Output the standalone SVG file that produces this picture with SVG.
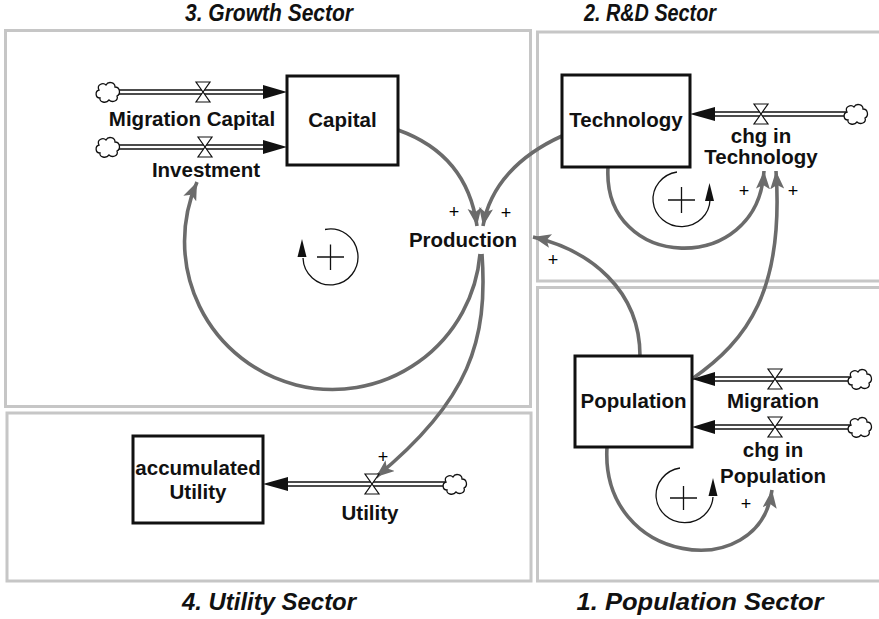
<svg xmlns="http://www.w3.org/2000/svg" width="879" height="619" viewBox="0 0 879 619">
<style>
.sector{fill:none;stroke:#c6c6c6;stroke-width:3}
.title{font-family:"Liberation Sans Narrow","Liberation Sans",Arial,sans-serif;font-weight:bold;font-style:italic;font-size:23px;text-anchor:middle;fill:#111}
.lbl{font-family:"Liberation Sans",Arial,sans-serif;font-weight:bold;font-size:20.5px;text-anchor:middle;fill:#111}
.pol{font-family:"Liberation Sans",Arial,sans-serif;font-size:18px;text-anchor:middle;fill:#000}
.stock{fill:#fff;stroke:#111;stroke-width:3}
.pipeo{stroke:#111;stroke-width:5.5;fill:none}
.pipei{stroke:#fff;stroke-width:2.5;fill:none}
.valve{fill:#fff;stroke:#111;stroke-width:1.2}
.flowhead{fill:#111}
.link{fill:none;stroke:#6b6b6b;stroke-width:3.6}
.loop{fill:none;stroke:#111;stroke-width:1.3}
</style>
<defs>
<marker id="ah" markerUnits="userSpaceOnUse" markerWidth="20" markerHeight="16" refX="18" refY="7" orient="auto">
<path d="M0,0 L18,7 L0,14 L4,7 Z" fill="#6b6b6b"/>
</marker>
<path id="cloud" d="M-9,-3 C-12,-8 -5,-11 -2,-8 C0,-12 7,-11 7,-6 C12,-6 13,1 9,3 C11,8 4,10 1,7 C-2,11 -9,9 -8,5 C-13,5 -13,-2 -9,-3 Z" fill="#fff" stroke="#111" stroke-width="1.3"/>
<g id="valve"><path class="valve" d="M-7,-10 L7,-10 L0,0 Z M-7,10 L7,10 L0,0 Z"/></g>
</defs>

<g id="sectors">
<rect class="sector" x="5.5" y="30.5" width="525" height="376"/>
<rect class="sector" x="537.5" y="32" width="350" height="249"/>
<rect class="sector" x="537.5" y="287.5" width="350" height="293.5"/>
<rect class="sector" x="7" y="413" width="524" height="168"/>
<text class="title" x="269" y="21" textLength="168" lengthAdjust="spacingAndGlyphs">3. Growth Sector</text>
<text class="title" x="650" y="21" textLength="132" lengthAdjust="spacingAndGlyphs">2. R&amp;D Sector</text>
<text class="title" x="269" y="610" textLength="174" lengthAdjust="spacingAndGlyphs">4. Utility Sector</text>
<text class="title" x="700" y="610" textLength="247" lengthAdjust="spacingAndGlyphs">1. Population Sector</text>
</g>

<g id="connectors">
<path class="link" d="M398,130 C440,145 470,175 477,226" marker-end="url(#ah)"/>
<path class="link" d="M562,136 C520,155 490,185 483,226" marker-end="url(#ah)"/>
<path class="link" d="M640,356 C640,290 590,250 533,237" marker-end="url(#ah)"/>
<path class="link" d="M480,254 A148,148 0 1 1 197,182" marker-end="url(#ah)"/>
<path class="link" d="M482,254 C488,340 470,400 376,477" marker-end="url(#ah)"/>
<path class="link" d="M608,167 C602,272 758,277 764,171" marker-end="url(#ah)"/>
<path class="link" d="M692,379 C748,340 784,290 776,171" marker-end="url(#ah)"/>
<path class="link" d="M607,447 C600,565 760,585 772,490" marker-end="url(#ah)"/>
<text class="pol" x="454" y="218">+</text>
<text class="pol" x="506" y="219">+</text>
<text class="pol" x="553" y="266">+</text>
<text class="pol" x="744" y="197">+</text>
<text class="pol" x="793" y="197">+</text>
<text class="pol" x="746" y="510">+</text>
<text class="pol" x="383" y="463">+</text>
</g>

<g id="loop-growth">
<path class="loop" d="M325,229.5 A27.5,28 0 1 1 303,258"/>
<path d="M302,239 L297.5,257 L306.5,257 Z" fill="#111"/>
<path class="loop" d="M317,257 H344 M330.5,244.5 V270"/>
</g>
<g id="loop-rd">
<path class="loop" d="M677,172 A28.5,27.5 0 1 0 710,200"/>
<path d="M709.5,183 L705,201 L714,201 Z" fill="#111"/>
<path class="loop" d="M668,200 H695 M681.5,187 V213"/>
</g>
<g id="loop-pop">
<path class="loop" d="M680,468 A28.5,27.5 0 1 0 713,497"/>
<path d="M713,478 L708.5,496 L717.5,496 Z" fill="#111"/>
<path class="loop" d="M670,498 H697 M683.5,486 V510"/>
</g>

<g id="capital">
<rect class="stock" x="287" y="76" width="111" height="89"/>
<text class="lbl" x="342.5" y="127">Capital</text>
</g>
<g id="migration-capital">
<path class="pipeo" d="M119,92 H266"/><path class="pipei" d="M117,92 H268"/>
<path class="flowhead" d="M287,92 L263,85 L263,99 Z"/>
<use href="#valve" x="203" y="92"/>
<use href="#cloud" x="108" y="93"/>
<text class="lbl" x="192" y="126">Migration Capital</text>
</g>
<g id="investment">
<path class="pipeo" d="M119,147 H266"/><path class="pipei" d="M117,147 H268"/>
<path class="flowhead" d="M287,147 L263,140 L263,154 Z"/>
<use href="#valve" x="205" y="147"/>
<use href="#cloud" x="108" y="148"/>
<text class="lbl" x="206" y="177">Investment</text>
</g>
<g id="production">
<text class="lbl" x="463" y="247">Production</text>
</g>

<g id="technology">
<rect class="stock" x="562" y="75" width="128" height="92"/>
<text class="lbl" x="626" y="127">Technology</text>
</g>
<g id="chg-in-technology">
<path class="pipeo" d="M712,114 H846"/><path class="pipei" d="M710,114 H848"/>
<path class="flowhead" d="M690,114 L715,107 L715,121 Z"/>
<use href="#valve" x="761" y="114"/>
<use href="#cloud" x="856" y="115"/>
<text class="lbl" x="761" y="143">chg in</text>
<text class="lbl" x="761" y="164">Technology</text>
</g>

<g id="population">
<rect class="stock" x="575" y="356" width="117" height="91"/>
<text class="lbl" x="633.5" y="408">Population</text>
</g>
<g id="migration">
<path class="pipeo" d="M713,379 H850"/><path class="pipei" d="M711,379 H852"/>
<path class="flowhead" d="M692,379 L715,372 L715,386 Z"/>
<use href="#valve" x="775" y="379"/>
<use href="#cloud" x="860" y="380"/>
<text class="lbl" x="773" y="408">Migration</text>
</g>
<g id="chg-in-population">
<path class="pipeo" d="M713,427 H850"/><path class="pipei" d="M711,427 H852"/>
<path class="flowhead" d="M692,427 L715,420 L715,434 Z"/>
<use href="#valve" x="775" y="427"/>
<use href="#cloud" x="860" y="428"/>
<text class="lbl" x="773" y="457">chg in</text>
<text class="lbl" x="773" y="483">Population</text>
</g>

<g id="accumulated-utility">
<rect class="stock" x="133" y="436" width="130" height="87"/>
<text class="lbl" x="198" y="475">accumulated</text>
<text class="lbl" x="198" y="499">Utility</text>
</g>
<g id="utility">
<path class="pipeo" d="M285,484 H445"/><path class="pipei" d="M283,484 H447"/>
<path class="flowhead" d="M263,484 L288,477 L288,491 Z"/>
<use href="#valve" x="372" y="484"/>
<use href="#cloud" x="455" y="485"/>
<text class="lbl" x="370" y="520">Utility</text>
</g>
</svg>
